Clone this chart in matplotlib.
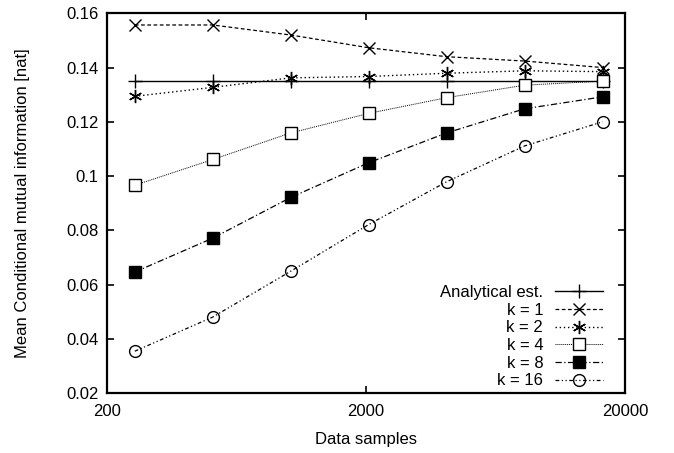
import matplotlib
matplotlib.use("Agg")
import matplotlib.pyplot as plt
from matplotlib.ticker import NullLocator

plt.rcParams["font.family"] = ["Liberation Sans", "DejaVu Sans"]

samples = [256, 512, 1024, 2048, 4096, 8192, 16384]
analytical = [0.1352] * 7
k1 = [0.1557, 0.1557, 0.1520, 0.1473, 0.1440, 0.1424, 0.1400]
k2 = [0.1294, 0.1327, 0.1362, 0.1367, 0.1379, 0.1388, 0.1385]
k4 = [0.0966, 0.1061, 0.1159, 0.1231, 0.1289, 0.1335, 0.1350]
k8 = [0.0646, 0.0771, 0.0921, 0.1049, 0.1159, 0.1248, 0.1292]
k16 = [0.0354, 0.0480, 0.0649, 0.0821, 0.0979, 0.1111, 0.1200]

x_ticks = [200, 2000, 20000]
y_ticks = [0.02, 0.04, 0.06, 0.08, 0.1, 0.12, 0.14, 0.16]
y_tick_labels = ["0.02", "0.04", "0.06", "0.08", "0.1", "0.12", "0.14", "0.16"]

fig = plt.figure(figsize=(6.74, 4.53), dpi=100)
ax = fig.add_axes([0.1588, 0.1325, 0.7685, 0.8381])

ax.plot(samples, analytical, color="black", lw=1.0, marker="+", ms=10, mew=1.0,
        label="Analytical est.")
ax.plot(samples, k1, color="black", lw=0.9, ls=(0, (3, 2)), marker="x", ms=8.5, mew=1.0,
        label="k = 1")
ax.plot(samples, k2, color="black", lw=1.0, ls=(0, (1, 2)), marker=(6, 2, 0), ms=9.5, mew=1.0,
        label="k = 2")
ax.plot(samples, k4, color="black", lw=0.7, ls=(0, (1, 1)), marker="s", ms=8.5, mew=1.0,
        mfc="white", label="k = 4")
ax.plot(samples, k8, color="black", lw=0.9, ls=(0, (5, 2, 1, 2)), marker="s", ms=8.5,
        label="k = 8")
ax.plot(samples, k16, color="black", lw=0.9, ls=(0, (3, 2, 1, 2, 1, 2)), marker="o", ms=8.5,
        mew=1.0, mfc="none", label="k = 16")

ax.set_xscale("log")
ax.set_xlim(200, 20000)
ax.set_ylim(0.02, 0.16)
ax.set_xticks(x_ticks)
ax.set_xticklabels([str(t) for t in x_ticks])
ax.xaxis.set_minor_locator(NullLocator())
ax.set_yticks(y_ticks)
ax.set_yticklabels(y_tick_labels)

ax.tick_params(direction="in", top=True, right=True, length=5, width=1.2,
               labelsize=12)
ax.tick_params(axis="x", pad=8)
ax.tick_params(axis="y", pad=6)
for spine in ax.spines.values():
    spine.set_linewidth(1.6)

ax.set_xlabel("Data samples", fontsize=12, labelpad=9)
ax.set_ylabel("Mean Conditional mutual information [nat]", fontsize=12, labelpad=26)

ax.legend(loc="lower right", bbox_to_anchor=(0.958, 0.012), frameon=False,
          markerfirst=False, fontsize=12, handlelength=2.9, handletextpad=0.7,
          labelspacing=0.16, borderpad=0, borderaxespad=0)

fig.savefig("out.png", dpi=100)
